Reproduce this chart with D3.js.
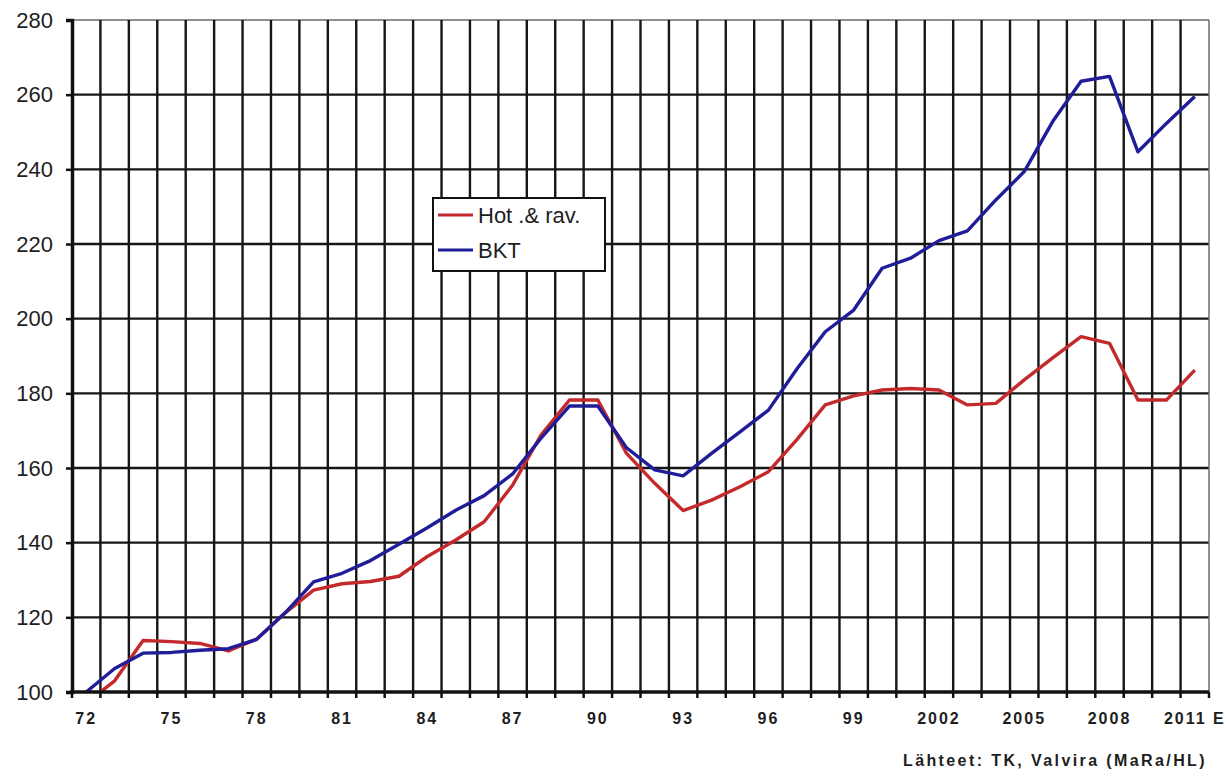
<!DOCTYPE html>
<html>
<head>
<meta charset="utf-8">
<script src="https://cdn.jsdelivr.net/npm/d3@7"></script>
<style>
  html, body { margin: 0; padding: 0; background: #ffffff; }
  svg { display: block; }
  text { font-family: "Liberation Sans", Arial, sans-serif; fill: #1e1e1e; }
</style>
</head>
<body>
<svg id="chart" width="1227" height="778"></svg>
<script>
// Years on the category axis
const years = [1972, 1973, 1974, 1975, 1976, 1977, 1978, 1979, 1980, 1981,
               1982, 1983, 1984, 1985, 1986, 1987, 1988, 1989, 1990, 1991,
               1992, 1993, 1994, 1995, 1996, 1997, 1998, 1999, 2000, 2001,
               2002, 2003, 2004, 2005, 2006, 2007, 2008, 2009, 2010, 2011];

// Hotellit ja ravintolat, index
const hotRav = [97, 103, 113.8, 113.5, 113.0, 111.0, 114.2, 121.2, 127.3, 129.0,
                129.6, 131.0, 136.3, 140.7, 145.6, 155.4, 168.8, 178.2, 178.2, 164.0,
                155.9, 148.6, 151.4, 155.0, 159.0, 167.6, 176.9, 179.3, 180.9, 181.3,
                180.9, 176.9, 177.3, 183.6, 189.5, 195.2, 193.4, 178.2, 178.2, 186.2];

// BKT, index
const bkt = [100, 106.3, 110.4, 110.6, 111.2, 111.6, 114.1, 121.2, 129.5, 131.8,
             135.2, 139.6, 144.0, 148.7, 152.6, 158.4, 168.0, 176.6, 176.6, 165.5,
             159.5, 157.9, 163.9, 169.7, 175.5, 186.5, 196.5, 202.3, 213.5, 216.2,
             220.9, 223.5, 231.8, 239.4, 252.8, 263.6, 264.9, 244.7, 252.3, 259.5];

const seriesNames = ["Hot .& rav.", "BKT"];

// Y axis ticks
const yTicks = [100, 120, 140, 160, 180, 200, 220, 240, 260, 280];

// Labelled years and their texts
const labelYears = [1972, 1975, 1978, 1981, 1984, 1987, 1990, 1993, 1996, 1999, 2002, 2005, 2008, 2011];
const labelTexts = ["72", "75", "78", "81", "84", "87", "90", "93", "96", "99", "2002", "2005", "2008", "2011 E"];

const sourceText = "Lähteet: TK, Valvira (MaRa/HL)";

// ---- drawing ----
const svg = d3.select("#chart");
const plot = { left: 72, right: 1209, top: 20, bottom: 692 };
const colors = ["#c42a2c", "#1f1d98"];

const x = d3.scaleBand().domain(years).range([plot.left, plot.right]).padding(0);
const y = d3.scaleLinear().domain([100, 280]).range([plot.bottom, plot.top]);
const cx = yr => x(yr) + x.bandwidth() / 2;

// horizontal gridlines
svg.append("g")
  .selectAll("line")
  .data(yTicks.filter(v => v > 100))
  .join("line")
  .attr("x1", plot.left).attr("x2", plot.right)
  .attr("y1", d => y(d)).attr("y2", d => y(d))
  .attr("stroke", d => d === 280 ? "#6a6a6a" : "#161616")
  .attr("stroke-width", d => d === 280 ? 1.5 : 2.4);

// vertical gridlines at category boundaries
const bounds = years.slice(1).map(yr => x(yr));
svg.append("g")
  .selectAll("line")
  .data(bounds)
  .join("line")
  .attr("x1", d => d).attr("x2", d => d)
  .attr("y1", plot.top).attr("y2", plot.bottom)
  .attr("stroke", "#161616")
  .attr("stroke-width", 2.4);

// right border
svg.append("line")
  .attr("x1", plot.right).attr("x2", plot.right)
  .attr("y1", plot.top).attr("y2", plot.bottom)
  .attr("stroke", "#6a6a6a").attr("stroke-width", 1.5);

// x tick marks below the axis
svg.append("g")
  .selectAll("line")
  .data([plot.left, ...bounds, plot.right])
  .join("line")
  .attr("x1", d => d).attr("x2", d => d)
  .attr("y1", plot.bottom).attr("y2", plot.bottom + 6)
  .attr("stroke", "#111").attr("stroke-width", 2.5);

// series lines, clipped to the plot area
svg.append("clipPath").attr("id", "plot-clip")
  .append("rect")
  .attr("x", plot.left).attr("y", plot.top)
  .attr("width", plot.right - plot.left).attr("height", plot.bottom - plot.top);

const line = d3.line()
  .x((d, i) => cx(years[i]))
  .y(d => y(d));

const seriesData = [hotRav, bkt];
svg.append("g").attr("clip-path", "url(#plot-clip)")
  .selectAll("path")
  .data(seriesData)
  .join("path")
  .attr("d", d => line(d))
  .attr("fill", "none")
  .attr("stroke", (d, i) => colors[i])
  .attr("stroke-width", 3.4)
  .attr("stroke-linejoin", "round");

// y axis
const yAxis = svg.append("g")
  .attr("transform", `translate(${plot.left},0)`)
  .call(d3.axisLeft(y).tickValues(yTicks).tickSize(6).tickPadding(13).tickFormat(d3.format("d")));
yAxis.select(".domain").attr("stroke", "#111").attr("stroke-width", 3.5);
yAxis.selectAll(".tick line").attr("stroke", "#111").attr("stroke-width", 2.5);
yAxis.selectAll(".tick text")
  .attr("font-size", 22)
  .attr("fill", "#1e1e1e")
  .style("font-family", "'Liberation Sans', Arial, sans-serif");

// x axis
const xAxis = svg.append("g")
  .attr("transform", `translate(0,${plot.bottom})`)
  .call(d3.axisBottom(x).tickValues(labelYears).tickSize(0).tickPadding(21)
        .tickFormat(d => labelTexts[labelYears.indexOf(d)]));
xAxis.select(".domain").remove();
xAxis.selectAll(".tick text")
  .attr("font-size", 16)
  .attr("font-weight", "bold")
  .attr("letter-spacing", 2)
  .attr("fill", "#222")
  .style("font-family", "'Liberation Sans', Arial, sans-serif");

// bottom axis line on top
svg.append("line")
  .attr("x1", plot.left - 2).attr("x2", plot.right)
  .attr("y1", plot.bottom).attr("y2", plot.bottom)
  .attr("stroke", "#111").attr("stroke-width", 3.5);

// legend
const legend = svg.append("g").attr("transform", "translate(433,198)");
legend.append("rect")
  .attr("width", 172).attr("height", 73)
  .attr("fill", "#fff").attr("stroke", "#111").attr("stroke-width", 2);
const items = legend.selectAll("g.item")
  .data(seriesNames)
  .join("g").attr("class", "item")
  .attr("transform", (d, i) => `translate(0,${17 + i * 35})`);
items.append("line")
  .attr("x1", 5).attr("x2", 40)
  .attr("stroke", (d, i) => colors[i]).attr("stroke-width", 3);
items.append("text")
  .attr("x", 45).attr("dy", "0.36em")
  .attr("font-size", 22)
  .text(d => d);

// source note
svg.append("text")
  .attr("x", 1207).attr("y", 766)
  .attr("text-anchor", "end")
  .attr("font-size", 16)
  .attr("font-weight", "bold")
  .attr("letter-spacing", 2.4)
  .attr("fill", "#2a2a2a")
  .text(sourceText);
</script>
</body>
</html>
